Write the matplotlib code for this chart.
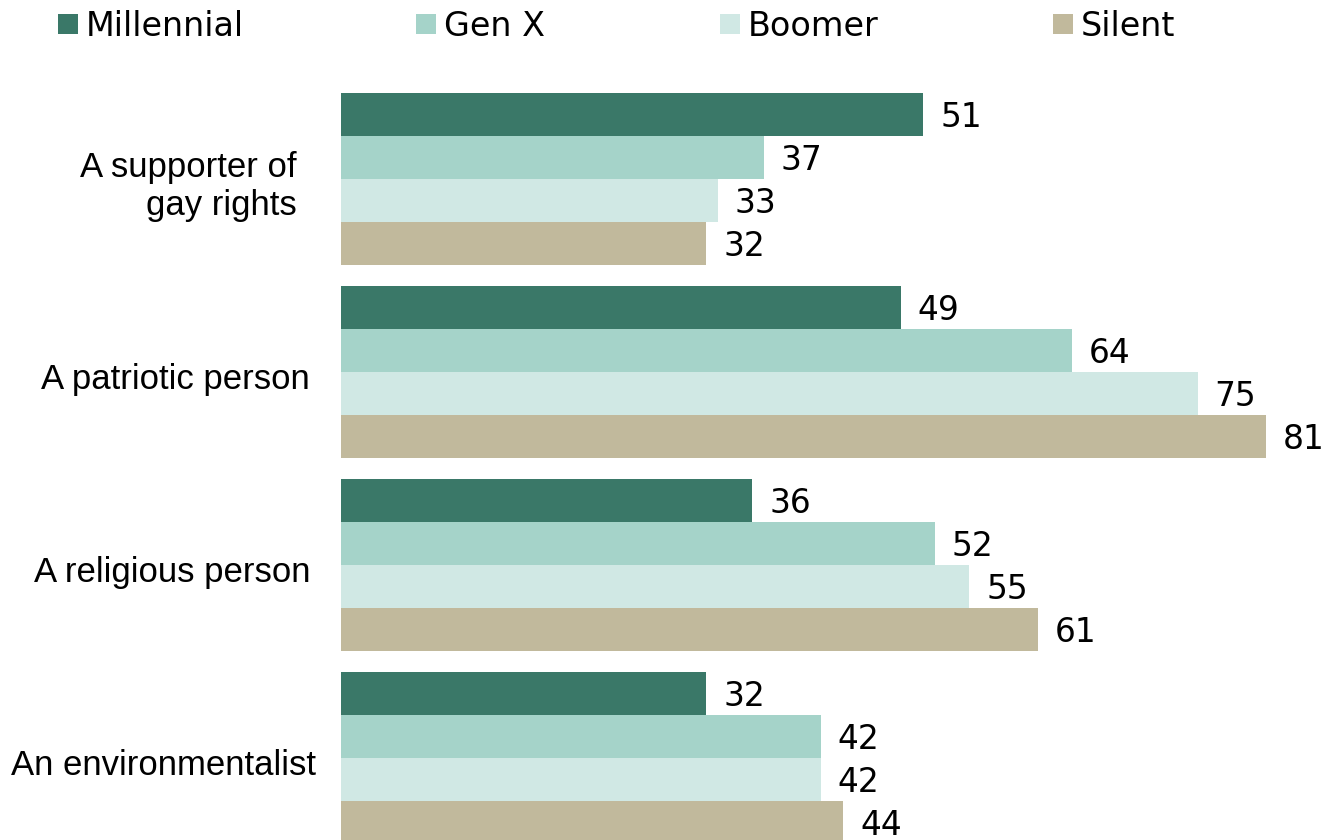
import matplotlib
matplotlib.use("Agg")
import matplotlib.pyplot as plt
from matplotlib.patches import Rectangle
import numpy as np

categories = ["A supporter of\ngay rights", "A patriotic person", "A religious person", "An environmentalist"]
generations = ["Millennial", "Gen X", "Boomer", "Silent"]
millennial = [51, 49, 36, 32]
gen_x = [37, 64, 52, 42]
boomer = [33, 75, 55, 42]
silent = [32, 81, 61, 44]
colors = ["#3a7868", "#a5d3c9", "#d0e8e4", "#c1b99c"]

series = [millennial, gen_x, boomer, silent]

W, H = 1331, 840
fig = plt.figure(figsize=(W / 100, H / 100), dpi=100)

# axes span from the bar baseline to the right edge, full height
x0 = 341
ax = fig.add_axes([x0 / W, 0, 1 - x0 / W, 1])
px_per_unit = 11.42
ax.set_xlim(0, (W - x0) / px_per_unit)

bar_px = 43
group_px = 193
pitch = group_px / bar_px
first_center_px = 179
ax.set_ylim((H - first_center_px) / bar_px, -first_center_px / bar_px)

offsets = np.array([-1.5, -0.5, 0.5, 1.5])
centers = np.arange(len(categories)) * pitch
for j, (vals, col) in enumerate(zip(series, colors)):
    ys = centers + offsets[j]
    ax.barh(ys, vals, height=1.0, color=col, edgecolor="none", linewidth=0)
    for y, v in zip(ys, vals):
        ax.text(v + 17 / px_per_unit, y + 12.5 / bar_px, str(v), va="baseline", ha="left",
                fontsize=23.7, family="DejaVu Sans", color="black")

ax.axis("off")

# category labels right-aligned left of bars, one text per line
label_right_px = [297, 310, 310, 316]
line_px = 38
for i, (c, rx) in enumerate(zip(categories, label_right_px)):
    center_px = first_center_px + i * group_px
    lines = c.split("\n")
    n = len(lines)
    for k, line in enumerate(lines):
        base_px = center_px + 17 + (k - (n - 1) / 2) * line_px
        fig.text(rx / W, 1 - base_px / H, line, ha="right", va="baseline",
                 fontsize=25, family="Liberation Sans")

# legend row across the top
legend_x = [58, 416, 720, 1053]
for name, col, lx in zip(generations, colors, legend_x):
    fig.add_artist(Rectangle((lx / W, 1 - 34 / H), 20 / W, 20 / H,
                             transform=fig.transFigure, facecolor=col, edgecolor="none"))
    fig.text((lx + 28) / W, 1 - 36 / H, name, ha="left", va="baseline",
             fontsize=24, family="DejaVu Sans")

fig.savefig("out.png", dpi=100)
